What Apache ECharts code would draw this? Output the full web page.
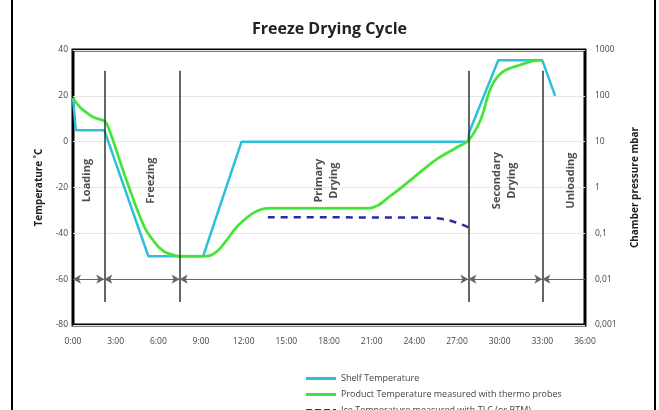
<!DOCTYPE html>
<html lang="en">
<head>
    <meta charset="UTF-8">
    <title>Freeze Drying Cycle</title>
    <style>
        html, body { margin: 0; padding: 0; background: #fff; }
        #main { width: 659px; height: 410px; }
    </style>
</head>
<body>
    <div id="main"></div>
    <script src="https://cdn.jsdelivr.net/npm/echarts@6/dist/echarts.min.js"></script>
    <script>
        // shelf temperature (°C) over time (h)
        let shelfHours = [0, 0.2, 2.2, 5.3, 9.15, 11.85, 27.8, 27.85, 29.9, 33, 33.9];
        let shelfTemp = [19, 5, 5, -50, -50, 0, 0, 4, 35.5, 35.5, 20];

        // product temperature, thermo probes
        let productHours = [0, 0.5, 1, 1.5, 2.2, 2.5, 3.76, 5, 5.75, 6.3, 6.8, 7.5, 9.3, 10.1, 10.8, 11.55, 12.7, 13.75, 20.8, 22.4, 24, 25.5, 26.9, 27.8, 28.65, 29.4, 30.2, 31.4, 32.8, 33];
        let productTemp = [19, 15, 12.5, 10.5, 9, 6, -16.8, -37, -44, -47.5, -49, -50, -50, -48, -43, -37, -31, -29, -29, -23.3, -15.4, -8, -2.8, 0.5, 9.4, 23.8, 30.4, 33.4, 35.5, 35.5];

        // chamber pressure (mbar), dashed
        let pressureHours = [13.7, 24.5, 26, 26.9, 27.8];
        let pressureVal = [0.224, 0.22, 0.205, 0.174, 0.135];

        let phaseBounds = [2.2, 7.5, 27.8, 33];
        let phaseNames = ['Loading', 'Freezing', 'Primary\nDrying', 'Secondary\nDrying', 'Unloading'];
        let phaseMid = [1.0, 5.5, 17.8, 30.3, 35.0];

        let seriesNames = ['Shelf Temperature', 'Product Temperature measured with thermo probes', 'Ice Temperature measured with TLC (or BTM)'];

        const pairs = (xs, ys) => xs.map((x, i) => [x, ys[i]]);

        // separators and arrow line at -60
        let sepLines = phaseBounds.map(h => [{ coord: [h, -70] }, { coord: [h, 31] }]);
        let edges = [0, ...phaseBounds, 36];
        let arrowLines = [];
        for (let i = 0; i < edges.length - 1; i++) {
            let last = i === edges.length - 2;
            arrowLines.push([
                { coord: [edges[i], -60], symbol: 'arrow' },
                { coord: [edges[i + 1], -60], symbol: last ? 'none' : 'arrow' }
            ]);
        }

        let solidIcon = 'path://M0,0H30V3H0Z';
        let dashIcon = 'path://M0,0H6V3H0Z M9,0H15V3H9Z M18,0H24V3H18Z M27,0H30V3H27Z';

        var myChart = echarts.init(document.getElementById('main'));
        let font = 'Open Sans';

        option = {
            animation: false,
            textStyle: { fontFamily: font },
            title: {
                text: 'Freeze Drying Cycle',
                left: 'center',
                top: 16,
                textStyle: { fontSize: 16, fontWeight: 'bold', color: '#222', fontFamily: font }
            },
            legend: {
                orient: 'vertical',
                left: 301,
                top: 369,
                height: 80,
                itemWidth: 30,
                itemHeight: 3,
                itemGap: 7,
                data: [
                    { name: seriesNames[0], icon: solidIcon },
                    { name: seriesNames[1], icon: solidIcon },
                    { name: seriesNames[2], icon: dashIcon }
                ],
                textStyle: { fontSize: 9, color: '#444' }
            },
            graphic: [
                { type: 'line', shape: { x1: 12, y1: 0, x2: 12, y2: 410 }, style: { stroke: '#000', lineWidth: 2 } },
                { type: 'line', shape: { x1: 655, y1: 0, x2: 655, y2: 410 }, style: { stroke: '#000', lineWidth: 2 } }
            ],
            grid: {
                left: 73,
                right: 74,
                top: 50,
                bottom: 85,
                show: true,
                borderColor: '#000',
                borderWidth: 3
            },
            xAxis: {
                type: 'value',
                min: 0,
                max: 36,
                interval: 3,
                axisLine: { show: false },
                axisTick: { show: false },
                splitLine: { show: false },
                axisLabel: {
                    color: '#444',
                    fontSize: 8.5,
                    margin: 12,
                    formatter: v => v + ':00'
                }
            },
            yAxis: [{
                type: 'value',
                min: -80,
                max: 40,
                interval: 20,
                name: 'Temperature ˚C',
                nameLocation: 'middle',
                nameGap: 25,
                nameRotate: 90,
                nameTextStyle: { fontSize: 10, fontWeight: 'bold', color: '#222' },
                axisLine: { show: false },
                axisTick: { show: false },
                splitLine: { lineStyle: { color: '#e6e6e6', width: 1 } },
                axisLabel: { color: '#444', fontSize: 8.5, margin: 5 }
            }, {
                type: 'log',
                logBase: 10,
                min: 0.001,
                max: 1000,
                name: 'Chamber pressure mbar',
                nameLocation: 'middle',
                nameGap: 45,
                nameRotate: 90,
                nameTextStyle: { fontSize: 10, fontWeight: 'bold', color: '#222' },
                axisLine: { show: false },
                axisTick: { show: false },
                splitLine: { show: false },
                axisLabel: {
                    color: '#444',
                    fontSize: 8.5,
                    margin: 10,
                    formatter: v => String(Number(v.toPrecision(3))).replace('.', ',')
                }
            }],
            series: [{
                name: seriesNames[0],
                type: 'line',
                symbol: 'none',
                data: pairs(shelfHours, shelfTemp),
                lineStyle: { color: '#2cc0da', width: 2.5 },
                itemStyle: { color: '#2cc0da' },
                z: 3,
                markLine: {
                    silent: true,
                    symbol: 'none',
                    label: { show: false },
                    lineStyle: { color: '#333', width: 1.5, type: 'solid' },
                    data: sepLines
                }
            }, {
                name: seriesNames[1],
                type: 'line',
                symbol: 'none',
                smooth: 0.35,
                data: pairs(productHours, productTemp),
                lineStyle: { color: '#3fe23f', width: 2.5, shadowColor: 'rgba(160,240,80,0.6)', shadowBlur: 2 },
                itemStyle: { color: '#3fe23f' },
                z: 4,
                markLine: {
                    silent: true,
                    symbolSize: [7, 8],
                    label: { show: false },
                    lineStyle: { color: '#666', width: 1, type: 'solid' },
                    itemStyle: { color: '#111' },
                    data: arrowLines
                }
            }, {
                name: seriesNames[2],
                type: 'line',
                yAxisIndex: 1,
                symbol: 'none',
                smooth: 0.4,
                data: pairs(pressureHours, pressureVal),
                lineStyle: { color: '#2a2aa6', width: 2.5, type: [7, 6] },
                itemStyle: { color: '#2a2aa6' },
                z: 3
            }, {
                type: 'scatter',
                silent: true,
                symbolSize: 1,
                itemStyle: { color: 'rgba(0,0,0,0)' },
                data: phaseMid.map((h, i) => ({ value: [h, -17], name: phaseNames[i] })),
                label: {
                    show: true,
                    position: 'inside',
                    rotate: 90,
                    formatter: p => p.name,
                    fontSize: 11,
                    fontWeight: 'bold',
                    lineHeight: 15,
                    color: '#222'
                },
                z: 5
            }]
        };
        myChart.setOption(option);
    </script>
</body>
</html>
